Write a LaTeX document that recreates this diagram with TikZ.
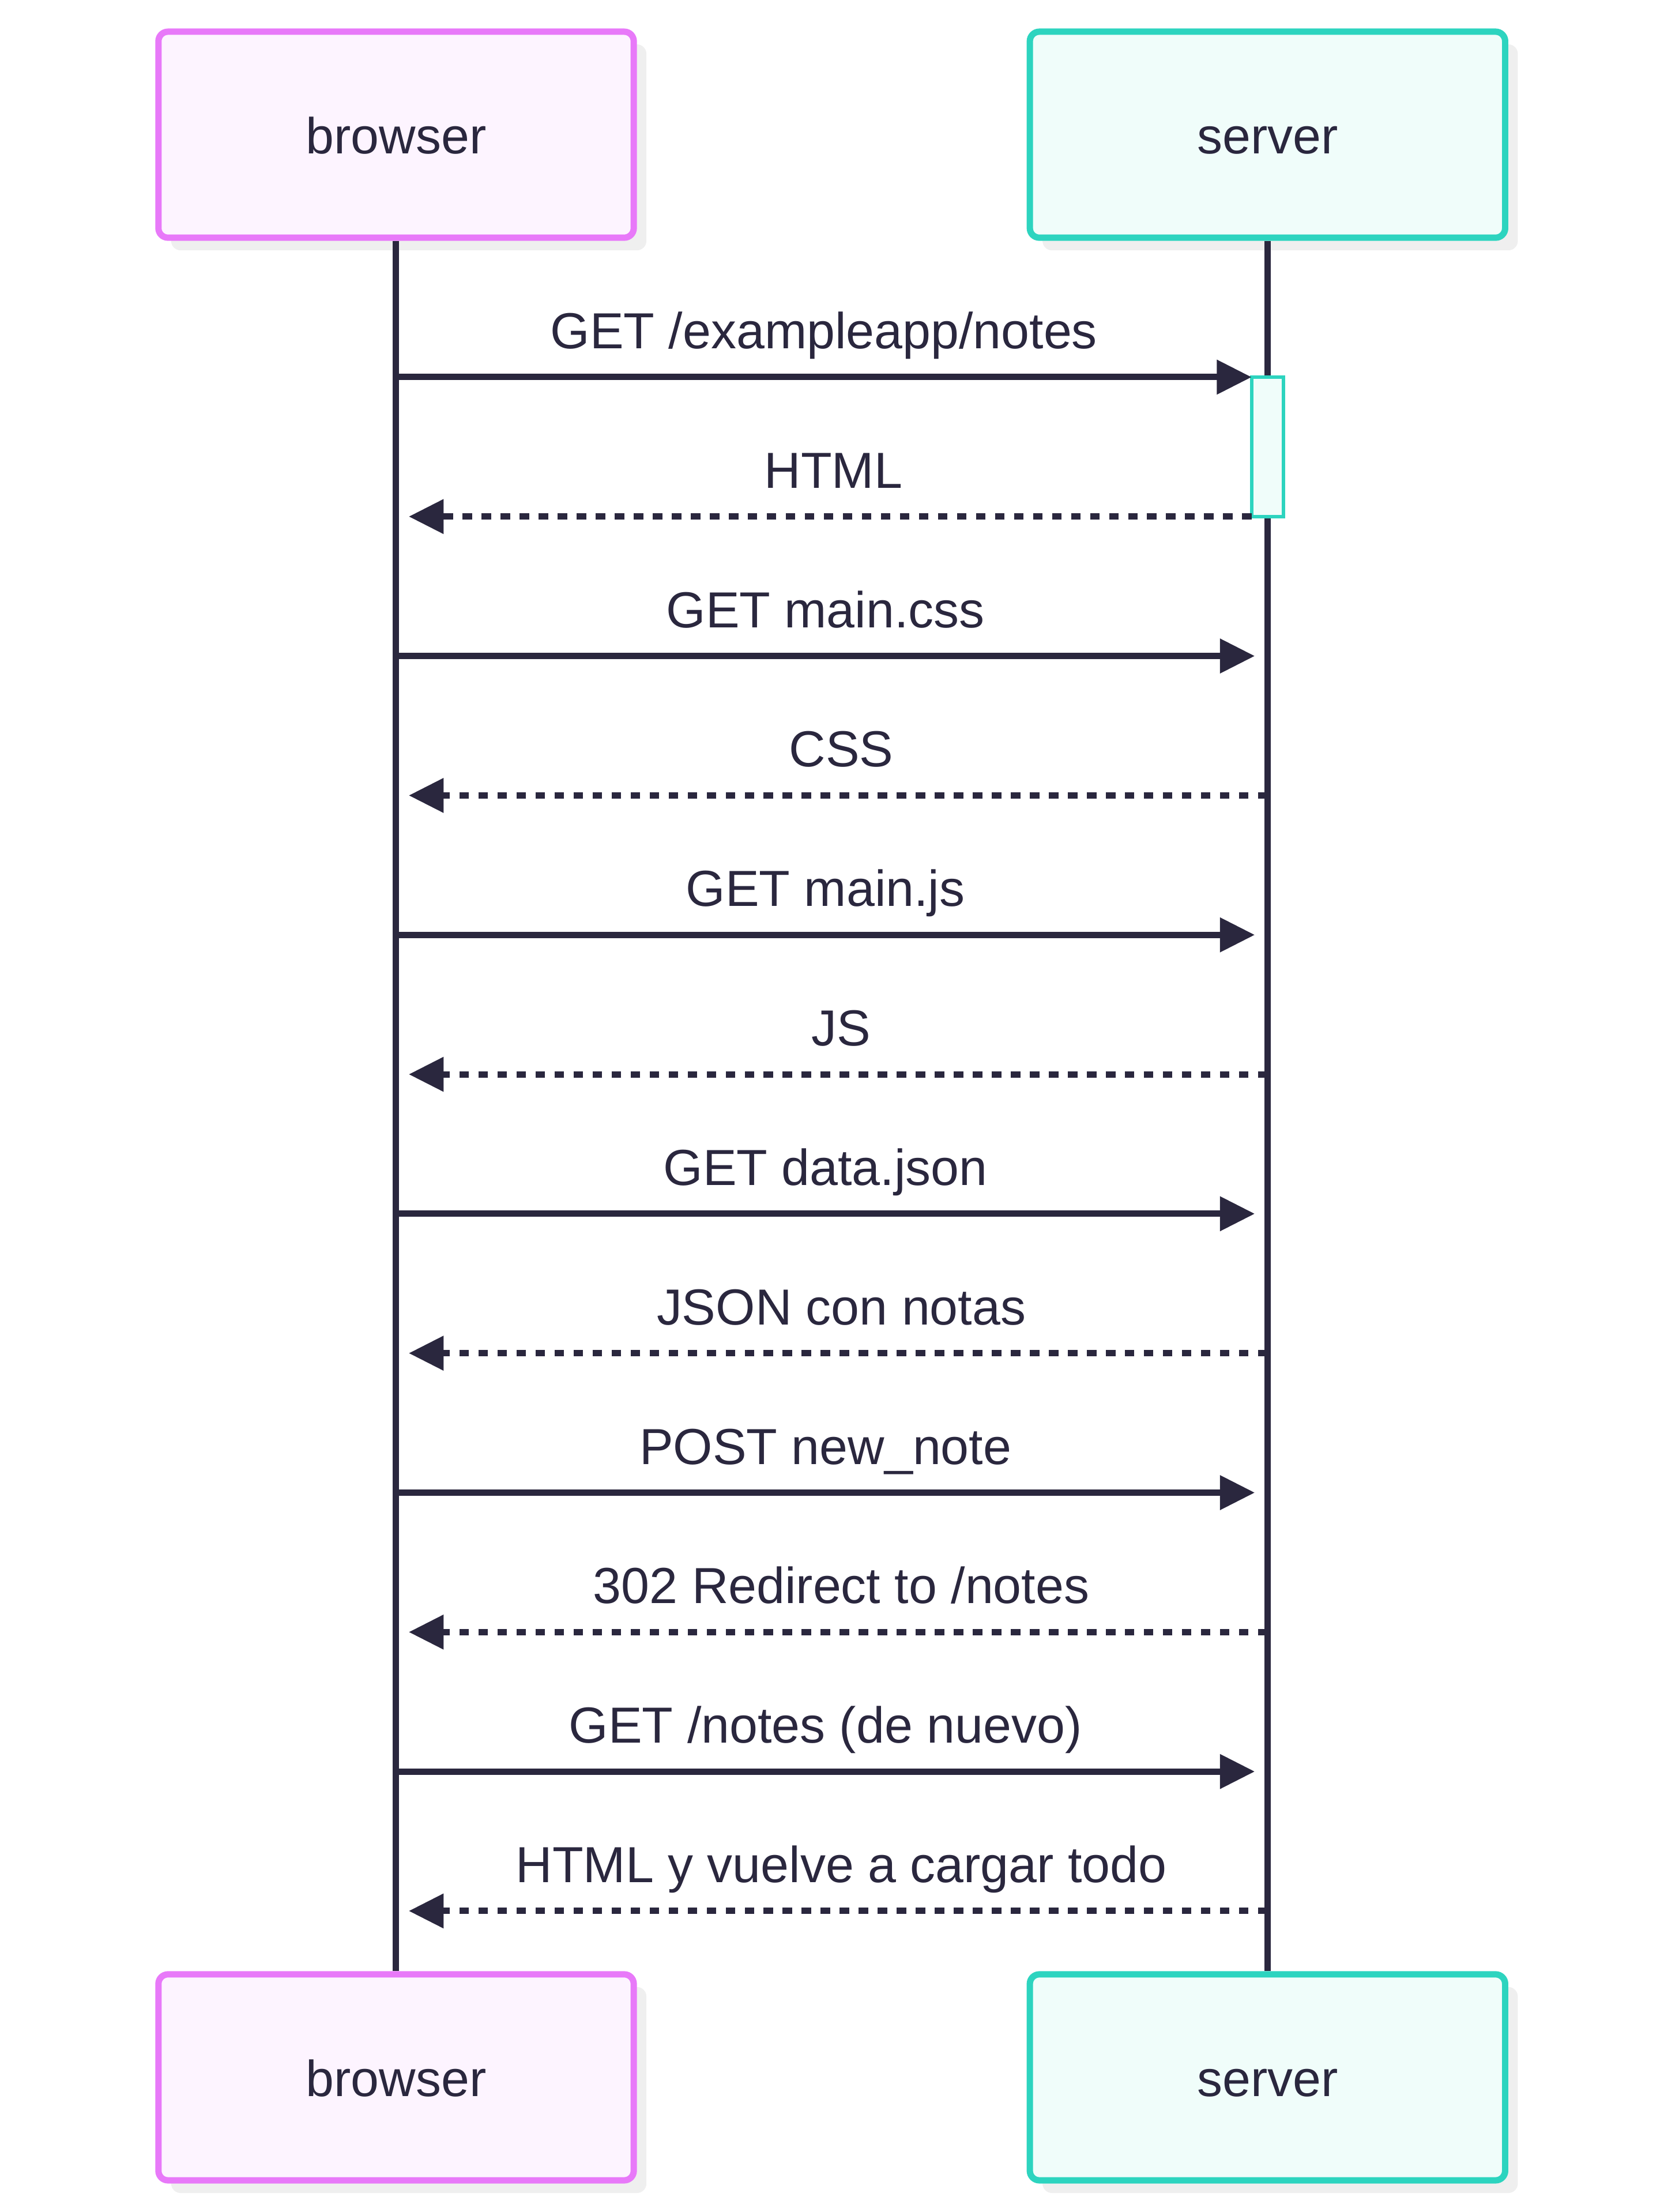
\documentclass[tikz,border=0pt]{standalone}
\usepackage{fontspec}
\setmainfont{Liberation Sans}
\usetikzlibrary{arrows.meta,shadows}
\definecolor{ink}{RGB}{42,39,62}
\definecolor{brpink}{RGB}{232,121,249}
\definecolor{brfill}{RGB}{253,244,255}
\definecolor{svteal}{RGB}{45,212,191}
\definecolor{svfill}{RGB}{240,253,250}
\definecolor{shadowgray}{RGB}{239,239,239}
\newcommand{\msgfont}{\fontsize{16pt}{19pt}\selectfont}
\tikzset{
  actor/.style={draw, rounded corners=3pt, line width=2pt, minimum width=150pt,
    minimum height=65pt, text=ink, font=\msgfont, text height=12pt, text depth=0pt,
    general shadow={shadow xshift=4pt, shadow yshift=-4pt, fill=shadowgray, draw=none}},
  brbox/.style={actor, draw=brpink, fill=brfill},
  svbox/.style={actor, draw=svteal, fill=svfill},
  life/.style={ink, line width=2pt},
  activation/.style={draw=svteal, fill=svfill, line width=1pt, inner sep=0pt, outer sep=0pt,
    minimum width=10pt, minimum height=44pt},
  msg/.style={ink, line width=2pt, -{Triangle[length=11pt,width=10.5pt]}, shorten >=4pt},
  reply/.style={msg, dash pattern=on 3pt off 3pt},
  mlbl/.style={anchor=base, yshift=9pt, xshift=-2pt, text=ink, font=\msgfont},
  rlbl/.style={mlbl, xshift=5pt}
}
\begin{document}
\begin{tikzpicture}[x=1pt, y=-1pt]
\useasboundingbox (0,0) rectangle (525,698);
% actors
\node[brbox] (btop) at (125,42.5) {browser};
\node[svbox] (stop) at (400,42.5) {server};
\node[brbox] (bbot) at (125,655.5) {browser};
\node[svbox] (sbot) at (400,655.5) {server};
% lifelines
\draw[life] (btop.south) -- (bbot.north);
\draw[life] (stop.south) -- (sbot.north);
% one row per message
\foreach \i in {0,...,11}{
  \coordinate (b\i) at (125,119+44*\i);
  \coordinate (s\i) at (400,119+44*\i);
}
\node[activation] (act) at (400,141) {};
\draw[msg, shorten >=0pt] (b0) -- (act.north west) node[midway, mlbl, xshift=2pt]{GET /exampleapp/notes};
\draw[reply, shorten >=4pt] (act.south west) -- (b1) node[midway, rlbl]{HTML};
\draw[msg] (b2) -- (s2) node[midway, mlbl]{GET main.css};
\draw[reply] (s3) -- (b3) node[midway, rlbl]{CSS};
\draw[msg] (b4) -- (s4) node[midway, mlbl]{GET main.js};
\draw[reply] (s5) -- (b5) node[midway, rlbl]{JS};
\draw[msg] (b6) -- (s6) node[midway, mlbl]{GET data.json};
\draw[reply] (s7) -- (b7) node[midway, rlbl]{JSON con notas};
\draw[msg] (b8) -- (s8) node[midway, mlbl]{POST new\_note};
\draw[reply] (s9) -- (b9) node[midway, rlbl]{302 Redirect to /notes};
\draw[msg] (b10) -- (s10) node[midway, mlbl]{GET /notes (de nuevo)};
\draw[reply] (s11) -- (b11) node[midway, rlbl]{HTML y vuelve a cargar todo};
\end{tikzpicture}
\end{document}
